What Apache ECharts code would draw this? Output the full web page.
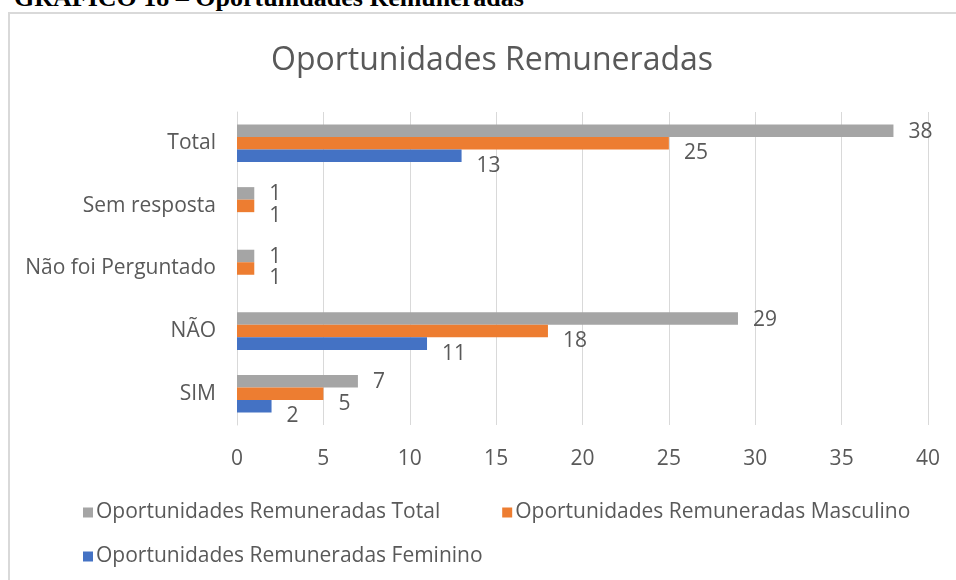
<!DOCTYPE html>
<html>
<head>
<meta charset="utf-8">
<title>Oportunidades Remuneradas</title>
<script src="https://cdn.jsdelivr.net/npm/echarts@6/dist/echarts.min.js"></script>
<style>
  html, body {
    margin: 0;
    padding: 0;
    background: #fff;
    overflow: hidden;
  }
  .page-title {
    position: absolute;
    left: 14px;
    top: -15px;
    font-family: "Liberation Serif", serif;
    font-weight: bold;
    font-size: 26px;
    line-height: 26px;
    color: #000;
    white-space: nowrap;
  }
  .frame {
    position: absolute;
    left: 8px;
    top: 12px;
    width: 1000px;
    height: 600px;
    border: 2px solid #d9d9d9;
  }
  #chart {
    position: absolute;
    left: 0;
    top: 0;
    width: 956px;
    height: 580px;
  }
</style>
</head>
<body>
<div class="page-title">GRÁFICO 18 – Oportunidades Remuneradas</div>
<div class="frame"></div>
<div id="chart"></div>
<script>
// categories bottom -> top (category axis starts at bottom)
const categories = ['SIM', 'NÃO', 'Não foi Perguntado', 'Sem resposta', 'Total']
const totalValues = [7, 29, 1, 1, 38]
const masculinoValues = [5, 18, 1, 1, 25]
const femininoValues = [2, 11, 0, 0, 13]
const xTicks = [0, 5, 10, 15, 20, 25, 30, 35, 40]

const textColor = '#595959'
const font = 'Open Sans'

const barLabel = (dy) => {
  return {
    show: true,
    position: 'right',
    distance: 15,
    offset: [0, dy],
    color: textColor,
    fontFamily: font,
    fontSize: 21,
    formatter: (p) => (p.value ? p.value : ''),
  }
}

const myChart = echarts.init(document.getElementById('chart'), null, { renderer: 'canvas' })

const legendText = { color: textColor, fontFamily: font, fontSize: 21, padding: [0, 0, 0, -2] }

const option = {
  animation: false,
  title: {
    text: 'Oportunidades Remuneradas',
    left: 487,
    top: 40,
    textAlign: 'center',
    textStyle: {
      color: textColor,
      fontFamily: font,
      fontWeight: 'normal',
      fontSize: 32,
    },
  },
  legend: [
    {
      data: ['Oportunidades Remuneradas Total', 'Oportunidades Remuneradas Masculino'],
      left: 78,
      top: 497,
      itemWidth: 10,
      itemHeight: 10,
      itemGap: 62,
      icon: 'rect',
      textStyle: legendText,
    },
    {
      data: ['Oportunidades Remuneradas Feminino'],
      left: 78,
      top: 541,
      itemWidth: 10,
      itemHeight: 10,
      icon: 'rect',
      textStyle: legendText,
    },
  ],
  grid: {
    left: 237,
    right: 28,
    top: 112,
    bottom: 155,
    containLabel: false,
  },
  xAxis: {
    type: 'value',
    min: xTicks[0],
    max: xTicks[xTicks.length - 1],
    interval: 5,
    axisLine: { show: false },
    axisTick: { show: false },
    axisLabel: {
      color: textColor,
      fontFamily: font,
      fontSize: 21,
      margin: 24,
    },
    splitLine: { lineStyle: { color: '#d9d9d9', width: 1 } },
  },
  yAxis: {
    type: 'category',
    data: categories,
    axisLine: { show: true, lineStyle: { color: '#d9d9d9' } },
    axisTick: { show: false },
    axisLabel: {
      color: textColor,
      fontFamily: font,
      fontSize: 21,
      margin: 21,
    },
  },
  series: [
    {
      name: 'Oportunidades Remuneradas Total',
      type: 'bar',
      data: totalValues,
      barGap: 0,
      barCategoryGap: '40%',
      itemStyle: { color: '#a5a5a5' },
      label: barLabel(1),
    },
    {
      name: 'Oportunidades Remuneradas Masculino',
      type: 'bar',
      data: masculinoValues,
      barGap: 0,
      barCategoryGap: '40%',
      itemStyle: { color: '#ed7d31' },
      label: barLabel(10),
    },
    {
      name: 'Oportunidades Remuneradas Feminino',
      type: 'bar',
      data: femininoValues,
      barGap: 0,
      barCategoryGap: '40%',
      itemStyle: { color: '#4472c4' },
      label: barLabel(10),
    },
  ],
}

myChart.setOption(option)
</script>
</body>
</html>
